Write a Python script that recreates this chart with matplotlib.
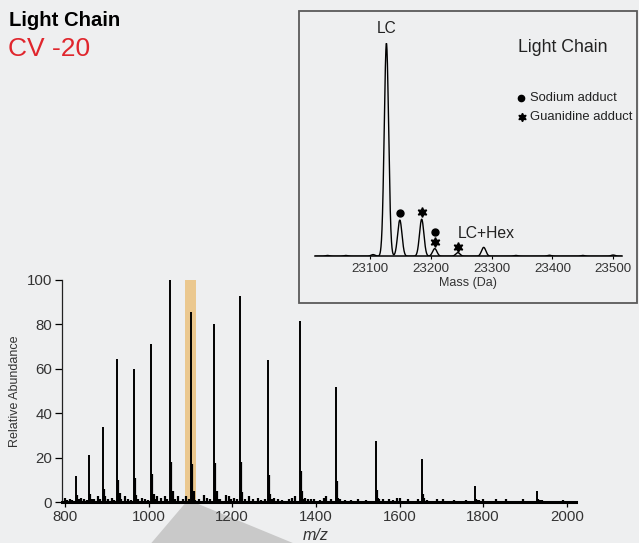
import matplotlib.pyplot as plt
import numpy as np
from matplotlib.patches import Polygon, Rectangle

plt.rcParams['font.family'] = ['Liberation Sans', 'DejaVu Sans']

W, H = 639, 543
BG = '#eeeff0'

# charge-state envelope (m/z, relative abundance)
peak_mz = [826, 857.5, 890, 925.5, 964.5, 1006, 1051.5, 1102, 1157, 1218.5,
           1285.5, 1362, 1447, 1543.5, 1653.5, 1780.5, 1929]
peak_abund = [11.5, 21, 34, 64.5, 60, 71, 100, 85.5, 80, 93,
              64, 81.5, 52, 27.5, 19.5, 7.2, 5]
# adduct shoulders just above each charge state
shoulder1_abund = [3, 3.5, 6, 10, 11, 12.5, 18, 17, 17.5, 18,
                   12, 14, 9.5, 5.5, 3.5, 1.5, 1.2]
shoulder2_abund = [1.5, 1.5, 2.5, 4, 3, 3.5, 5, 5, 5, 4.5,
                   3.5, 5, 2, 2, 2, 1, 0.8]
# baseline chatter
noise_mz = [800, 806, 812, 818, 834, 838, 846, 852, 864, 870, 880, 885, 897,
            903, 912, 918, 935, 944, 952, 958, 975, 985, 992, 998, 1015, 1020,
            1030, 1040, 1045, 1062, 1070, 1082, 1090, 1096, 1112, 1120, 1133,
            1140, 1148, 1165, 1170, 1185, 1192, 1198, 1205, 1212, 1230, 1240,
            1250, 1262, 1270, 1278, 1295, 1300, 1310, 1320, 1335, 1342, 1350,
            1370, 1375, 1382, 1388, 1395, 1410, 1420, 1425, 1435, 1458, 1470,
            1485, 1500, 1520, 1552, 1560, 1575, 1585, 1595, 1600, 1620, 1645,
            1665, 1690, 1705, 1730, 1760, 1790, 1800, 1830, 1855, 1895, 1940,
            1990]
noise_abund = [2, 1, 1.5, 1, 1.2, 2, 1.2, 1, 1.5, 1.5, 2.5, 1.2, 1.5,
               1.5, 2, 1, 1.5, 2.5, 1.5, 1, 1.2, 2, 1.5, 1, 1.2, 2.5,
               1.8, 2.5, 1.2, 1.5, 2.5, 1.5, 2.5, 1.2, 1, 1.5, 3,
               2, 1.2, 1.2, 1.5, 3, 2.5, 1.2, 2, 1.5, 1.2, 2.5,
               1.5, 2, 1, 1.2, 1.5, 2, 1.5, 1, 1.2, 2, 2.5,
               1.2, 2, 1.5, 1.2, 1.5, 1, 2, 2.5, 1.2, 1.2, 1,
               1, 1.5, 1, 1.2, 1.5, 1.5, 1, 2, 2, 1.2, 1.5,
               1, 1.2, 1.5, 1, 1, 1, 1.5, 1.5, 1.2, 1.2, 1,
               0.8]
highlight_mz = (1088, 1113)
mz_ticks = [800, 1000, 1200, 1400, 1600, 1800, 2000]
abund_ticks = [0, 20, 40, 60, 80, 100]

# deconvoluted masses
mass_da = [23030, 23060, 23105, 23127, 23149, 23185, 23206.5, 23244.5,
           23287, 23340, 23395, 23450, 23500]
mass_abund = [0.4, 0.4, 0.8, 100, 17, 17.4, 3.6, 1.7,
              4.2, 0.4, 0.5, 0.4, 0.6]
sodium_mass = [23149, 23207]
sodium_y = [20.2, 11.5]
guan_mass = [23185, 23207, 23245]
guan_y = [20.7, 6.6, 4.5]
mass_ticks = [23100, 23200, 23300, 23400, 23500]


def fx(x):
    return x / W


def fy(y):
    return 1 - y / H


fig = plt.figure(figsize=(W / 100, H / 100), dpi=100, facecolor=BG)

# main spectrum
ax = fig.add_axes([fx(62), fy(502), fx(576) - fx(62), fy(280) - fy(502)])
ax.set_facecolor('none')
ax.axvspan(*highlight_mz, color='#ebc88f', lw=0, zorder=0)
ax.vlines(noise_mz, 0, noise_abund, color='black', lw=1.6, zorder=2)
ax.vlines(np.array(peak_mz) + 6, 0, shoulder2_abund, color='black', lw=1.6, zorder=2)
ax.vlines(np.array(peak_mz) + 2.5, 0, shoulder1_abund, color='black', lw=1.6, zorder=2)
ax.vlines(peak_mz, 0, peak_abund, color='black', lw=1.4, zorder=3, clip_on=False)
ax.set_xlim(793, 2022)
ax.set_ylim(0, 100)
ax.spines[['top', 'right']].set_visible(False)
ax.spines['bottom'].set_linewidth(2.2)
ax.spines['left'].set_linewidth(0.9)
ax.spines['left'].set_color('#222222')
ax.set_xticks(mz_ticks)
ax.set_yticks(abund_ticks)
ax.tick_params(axis='x', length=3.5, width=0.9, pad=2, labelsize=10.8,
               labelcolor='#333333')
ax.tick_params(axis='y', length=5, width=0.9, pad=2, labelsize=10.8,
               labelcolor='#333333')
ax.set_ylabel('Relative Abundance', fontsize=9, color='#333333', labelpad=4)
fig.text(fx(316), fy(540), 'm/z', style='italic', fontsize=11.5,
         color='#333333', ha='center', va='baseline')

# wedge leading from the highlighted ion down
x0 = ax.transData.transform((highlight_mz[0], 0))
x1 = ax.transData.transform((highlight_mz[1], 0))
funnel = Polygon([(x0[0] / W, 1 - 503 / H), (x1[0] / W, 1 - 503 / H),
                  (x1[0] / W + fx(97), 0), (x0[0] / W - fx(34), 0)],
                 closed=True, transform=fig.transFigure,
                 facecolor='#c9c9c9', edgecolor='none', zorder=-1)
fig.patches.append(funnel)

# inset frame
fig.patches.append(Rectangle((fx(299), fy(303.3)), fx(637) - fx(299),
                             fy(11) - fy(303.3), transform=fig.transFigure,
                             facecolor='none', edgecolor='#5a5a5a', lw=1.3))

# deconvoluted inset
ai = fig.add_axes([fx(315), fy(256.3), fx(621.7) - fx(315), fy(43.3) - fy(256.3)])
ai.set_facecolor('none')
grid = np.linspace(23009.5, 23514, 3000)
profile = np.zeros_like(grid)
for m, a in zip(mass_da, mass_abund):
    profile += a * np.exp(-0.5 * ((grid - m) / 3.6) ** 2)
ai.plot(grid, profile, color='black', lw=1.0)
ai.set_xlim(23009.5, 23514)
ai.set_ylim(0, 100)
ai.spines[['top', 'right', 'left']].set_visible(False)
ai.spines['bottom'].set_linewidth(1.1)
ai.set_yticks([])
ai.set_xticks(mass_ticks)
ai.tick_params(axis='x', length=2.5, width=0.8, pad=2.5, labelsize=9.6,
               labelcolor='#333333')
ai.set_xlabel('Mass (Da)', fontsize=9, color='#333333', labelpad=1)
ai.plot(sodium_mass, sodium_y, 'o', color='black', ms=5, clip_on=False)
ai.plot(guan_mass, guan_y, marker=(6, 1, 0), ls='none', color='black', ms=7,
        clip_on=False)
ai.text(23127, 107, 'LC', fontsize=11.2, ha='center', va='center',
        color='#222222', clip_on=False)
ai.text(23292, 10.8, 'LC+Hex', fontsize=11.3, ha='center', va='center',
        color='#222222')

fig.text(fx(518), fy(47), 'Light Chain', fontsize=12.8, color='#222222',
         ha='left', va='center')
fig.lines.append(plt.Line2D([fx(521)], [fy(98)], marker='o', ms=4.5,
                            color='black', transform=fig.transFigure))
fig.lines.append(plt.Line2D([fx(522)], [fy(117)], marker=(6, 1, 0), ms=6,
                            color='black', transform=fig.transFigure))
fig.text(fx(530), fy(98), 'Sodium adduct', fontsize=9.4, color='#222222',
         ha='left', va='center')
fig.text(fx(530), fy(117), 'Guanidine adduct', fontsize=9.4, color='#222222',
         ha='left', va='center')

# headline
fig.text(fx(9), fy(26), 'Light Chain', fontsize=14.6, fontweight='bold',
         color='black', ha='left', va='baseline')
fig.text(fx(8), fy(56), 'CV -20', fontsize=19, color='#e0262d',
         ha='left', va='baseline')

fig.savefig('out.png', dpi=100, facecolor=BG)
